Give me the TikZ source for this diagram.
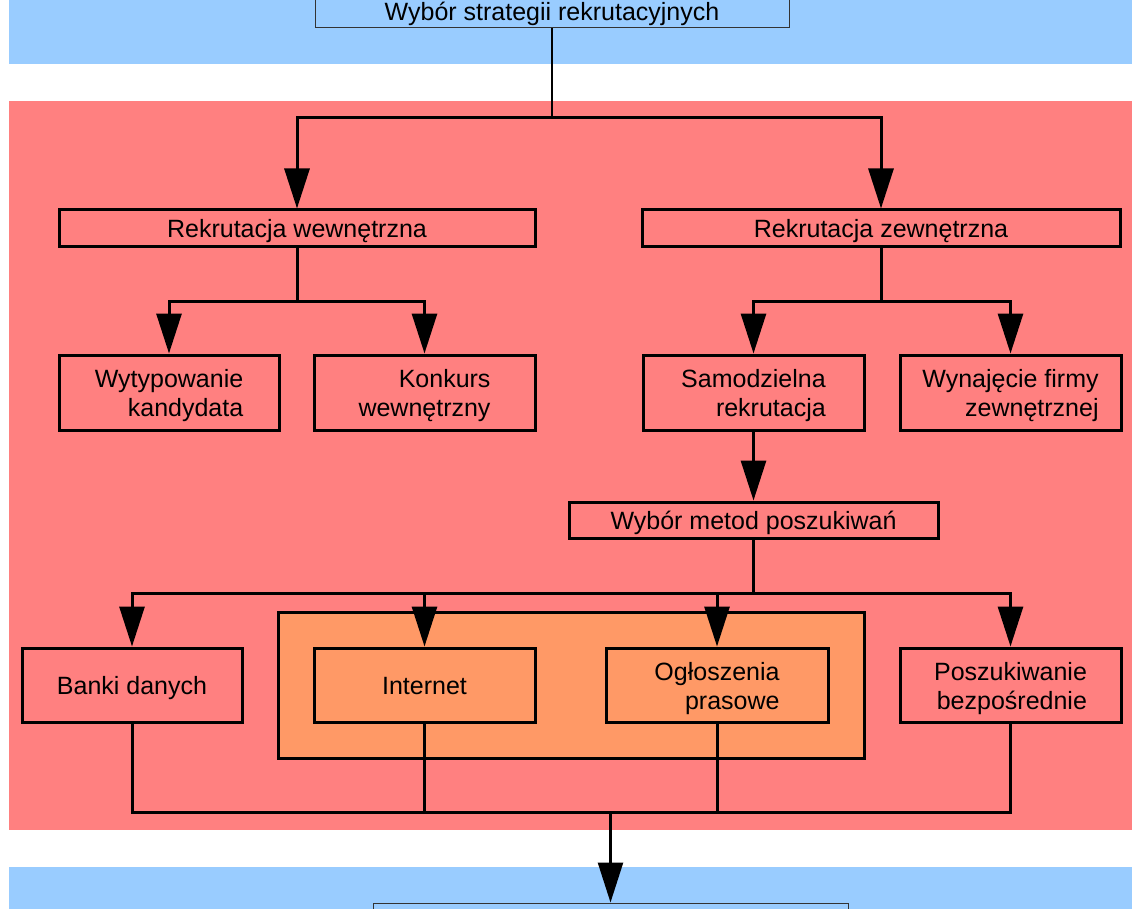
\documentclass[tikz,border=0pt]{standalone}
\usepackage{fontspec}
\setmainfont{Liberation Sans}
\usetikzlibrary{arrows.meta}
\definecolor{bandblue}{HTML}{99CCFF}
\definecolor{bandred}{HTML}{FF8080}
\definecolor{grouporange}{HTML}{FF9966}
\tikzset{
  box/.style={draw=black, line width=3pt, inner sep=0pt, align=right,
    font=\fontsize{25}{29}\selectfont},
  oneline/.style={box, text height=24pt, text depth=5pt},
  twoline/.style={box, text height=53pt, text depth=5pt},
  thinbox/.style={draw=black!80, line width=1pt, fill=bandblue, inner sep=0pt,
    font=\fontsize{25}{29}\selectfont},
  conn/.style={draw=black, line width=3pt},
  arr/.style={conn, -{Triangle[length=40pt,width=25pt]}},
}
\begin{document}
\begin{tikzpicture}[x=1pt,y=-1pt]
\useasboundingbox (0,0) rectangle (1132,909);
\clip (0,0) rectangle (1132,909);
% bands
\fill[bandblue] (9,-5) rectangle (1140,64);
\fill[bandred] (9,101) rectangle (1140,830);
\fill[bandblue] (9,867) rectangle (1140,915);
% group box
\node[box, fill=grouporange, minimum width=586pt, minimum height=146pt] (grp) at (571,685) {};
% nodes
\node[thinbox, minimum width=474pt, minimum height=48pt, text height=38pt, text depth=5pt] (top) at (552,4) {Wybór strategii rekrutacyjnych};
\node[oneline, minimum width=476pt, minimum height=37pt] (rw) at (297,228.5) {Rekrutacja wewnętrzna};
\node[oneline, minimum width=478pt, minimum height=37pt] (rz) at (881,228.5) {Rekrutacja zewnętrzna};
\node[twoline, minimum width=220pt, minimum height=75pt] (wyt) at (169,392.5) {Wytypowanie\\kandydata};
\node[twoline, minimum width=221pt, minimum height=75pt] (kon) at (424.5,392.5) {Konkurs\\wewnętrzny};
\node[twoline, minimum width=221pt, minimum height=75pt] (sam) at (753.5,392.5) {Samodzielna\\rekrutacja};
\node[twoline, minimum width=221pt, minimum height=75pt] (wyn) at (1010.5,392.5) {Wynajęcie firmy\\zewnętrznej};
\node[oneline, minimum width=369pt, minimum height=36pt] (wyb) at (753.5,520) {Wybór metod poszukiwań};
\node[oneline, minimum width=220pt, minimum height=74pt] (ban) at (132,685) {Banki danych};
\node[oneline, fill=grouporange, minimum width=221pt, minimum height=74pt] (inet) at (424.5,685) {Internet};
\node[twoline, fill=grouporange, minimum width=222pt, minimum height=74pt] (ogl) at (717,685) {Ogłoszenia\\prasowe};
\node[twoline, minimum width=221pt, minimum height=74pt] (pos) at (1010.5,685) {Poszukiwanie\\bezpośrednie};
\node[thinbox, minimum width=475pt, minimum height=40pt] (bot) at (610.5,923) {};
% junctions
\coordinate (j1) at (552,118);
\coordinate (j2) at (297,301);
\coordinate (j3) at (881,301);
\coordinate (j4) at (753.5,593);
\coordinate (j5) at (610.5,812);
% connectors
\draw[conn, line width=2.5pt] (top.south) -- (j1);
\draw[arr] (j1) -| (rw.north);
\draw[arr] (j1) -| (rz.north);
\draw[conn] (rw.south) -- (j2);
\draw[arr] (j2) -| (wyt.north);
\draw[arr] (j2) -| (kon.north);
\draw[conn] (rz.south) -- (j3);
\draw[arr] (j3) -| (sam.north);
\draw[arr] (j3) -| (wyn.north);
\draw[arr] (sam.south) -- (wyb.north);
\draw[conn] (wyb.south) -- (j4);
\draw[arr] (j4) -| (ban.north);
\draw[arr] (j4) -| (inet.north);
\draw[arr] (j4) -| (ogl.north);
\draw[arr] (j4) -| (pos.north);
\draw[conn] (ban.south) |- (j5);
\draw[conn] (pos.south) |- (j5);
\draw[conn] (inet.south) -- (inet.south |- j5);
\draw[conn] (ogl.south) -- (ogl.south |- j5);
\draw[arr, line width=2.5pt] (j5) -- (bot.north);
\end{tikzpicture}
\end{document}
